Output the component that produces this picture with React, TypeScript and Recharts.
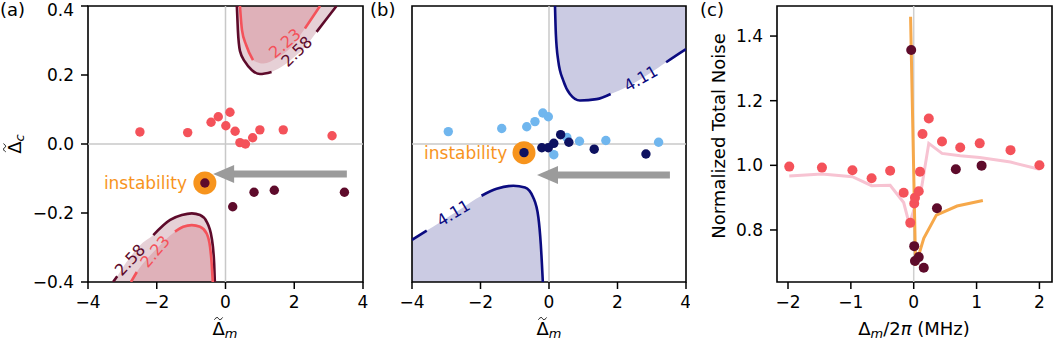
import React from 'react';
import {
  ComposedChart,
  Scatter,
  Line,
  Area,
  XAxis,
  YAxis,
  ReferenceLine,
  ReferenceDot,
  ReferenceArea,
} from 'recharts';

const FONT = '"DejaVu Sans", sans-serif';

type Pt = { x: number; y: number | null };

// ---------- panel (a): detuning map, red/dark data ----------
const brightA: Pt[] = [
  { x: -2.49, y: 0.035 }, { x: -1.1, y: 0.033 }, { x: -0.42, y: 0.063 }, { x: -0.21, y: 0.079 },
  { x: 0.13, y: 0.092 }, { x: 0.01, y: 0.053 }, { x: 0.28, y: 0.037 }, { x: 0.42, y: 0.004 },
  { x: 0.58, y: 0.0 }, { x: 0.79, y: 0.018 }, { x: 1.0, y: 0.041 }, { x: 1.68, y: 0.041 },
  { x: 3.1, y: 0.024 },
];
const darkA: Pt[] = [
  { x: -0.6, y: -0.113 }, { x: 0.21, y: -0.182 }, { x: 0.83, y: -0.14 }, { x: 1.42, y: -0.134 },
  { x: 3.46, y: -0.14 },
];
const instabA: Pt[] = [{ x: -0.6, y: -0.113 }];

// contour 2.58 (outer) and 2.23 (inner)
const outerUpA: Pt[] = [
  { x: 0.33, y: 0.4 }, { x: 0.36, y: 0.33 }, { x: 0.42, y: 0.27 }, { x: 0.57, y: 0.238 },
  { x: 0.77, y: 0.214 }, { x: 1.0, y: 0.203 }, { x: 1.34, y: 0.209 }, { x: 1.7, y: 0.228 },
  { x: 2.0, y: 0.252 }, { x: 2.35, y: 0.285 }, { x: 2.65, y: 0.325 }, { x: 2.92, y: 0.36 },
  { x: 3.23, y: 0.4 },
];
const innerUpA: Pt[] = [
  { x: 0.42, y: 0.4 }, { x: 0.48, y: 0.33 }, { x: 0.6, y: 0.287 }, { x: 0.8, y: 0.243 },
  { x: 1.1, y: 0.233 }, { x: 1.5, y: 0.25 }, { x: 1.9, y: 0.28 }, { x: 2.31, y: 0.335 },
  { x: 2.75, y: 0.4 },
];
const outerLowA: Pt[] = [
  { x: -3.27, y: -0.4 }, { x: -3.15, y: -0.383 }, { x: -2.9, y: -0.345 }, { x: -2.5, y: -0.295 },
  { x: -2.1, y: -0.264 }, { x: -1.61, y: -0.22 }, { x: -1.27, y: -0.206 }, { x: -0.98, y: -0.201 },
  { x: -0.74, y: -0.206 }, { x: -0.55, y: -0.225 }, { x: -0.4, y: -0.273 }, { x: -0.33, y: -0.346 },
  { x: -0.31, y: -0.4 },
];
const innerLowA: Pt[] = [
  { x: -2.75, y: -0.4 }, { x: -2.58, y: -0.371 }, { x: -2.3, y: -0.335 }, { x: -2.0, y: -0.303 },
  { x: -1.47, y: -0.254 }, { x: -1.23, y: -0.24 }, { x: -0.98, y: -0.235 }, { x: -0.74, y: -0.24 },
  { x: -0.55, y: -0.259 }, { x: -0.45, y: -0.298 }, { x: -0.4, y: -0.35 }, { x: -0.37, y: -0.4 },
];
// label gaps on the contour lines
const gapsOuterUpA = [[1.34, 2.65]];
const gapsInnerUpA = [[0.8, 2.31]];
const gapsOuterLowA = [[-3.15, -2.1]];
const gapsInnerLowA = [[-2.58, -1.47]];
const labelsA = [
  { x: 1.73, y: 0.292, text: '2.23', angle: -40, inner: true },
  { x: 2.07, y: 0.268, text: '2.58', angle: -44, inner: false },
  { x: -2.78, y: -0.336, text: '2.58', angle: -47, inner: false },
  { x: -2.05, y: -0.312, text: '2.23', angle: -50, inner: true },
];
const arrowA = { from: 3.53, to: -0.36, y: -0.087 };
const textA = { x: -1.12, y: -0.113 };

// ---------- panel (b) ----------
const brightB: Pt[] = [
  { x: -2.94, y: 0.036 }, { x: -1.38, y: 0.045 }, { x: -0.65, y: 0.05 }, { x: -0.41, y: 0.065 },
  { x: -0.18, y: 0.09 }, { x: -0.02, y: 0.079 }, { x: 0.52, y: 0.019 }, { x: 0.89, y: 0.008 },
  { x: 1.66, y: 0.01 }, { x: 3.2, y: 0.005 }, { x: 0.14, y: -0.031 },
];
const darkB: Pt[] = [
  { x: -0.73, y: -0.025 }, { x: -0.21, y: -0.011 }, { x: -0.02, y: -0.011 }, { x: 0.14, y: 0.002 },
  { x: 0.34, y: 0.027 }, { x: 0.58, y: 0.005 }, { x: 1.32, y: -0.015 }, { x: 2.83, y: -0.029 },
];
const instabB: Pt[] = [{ x: -0.73, y: -0.025 }];
const upB: Pt[] = [
  { x: 0.175, y: 0.4 }, { x: 0.2, y: 0.319 }, { x: 0.27, y: 0.241 }, { x: 0.42, y: 0.183 },
  { x: 0.61, y: 0.145 }, { x: 0.905, y: 0.126 }, { x: 1.39, y: 0.13 }, { x: 1.8, y: 0.145 },
  { x: 2.3, y: 0.167 }, { x: 2.8, y: 0.196 }, { x: 3.2, y: 0.222 }, { x: 3.42, y: 0.237 },
  { x: 3.92, y: 0.27 }, { x: 4.0, y: 0.275 },
];
const lowB: Pt[] = [
  { x: -4.0, y: -0.278 }, { x: -3.57, y: -0.251 }, { x: -3.2, y: -0.228 }, { x: -2.6, y: -0.19 },
  { x: -1.97, y: -0.15 }, { x: -1.53, y: -0.13 }, { x: -1.04, y: -0.121 }, { x: -0.7, y: -0.126 },
  { x: -0.46, y: -0.155 }, { x: -0.31, y: -0.213 }, { x: -0.24, y: -0.29 }, { x: -0.18, y: -0.4 },
];
const gapsUpB = [[1.8, 3.42]];
const gapsLowB = [[-3.57, -1.97]];
const labelsB = [
  { x: 2.68, y: 0.19, text: '4.11', angle: -30 },
  { x: -2.79, y: -0.2, text: '4.11', angle: -31 },
];
const arrowB = { from: 3.53, to: -0.35, y: -0.09 };
const textB = { x: -1.22, y: -0.027 };

// ---------- panel (c): normalized total noise ----------
const brightC: Pt[] = [
  { x: -1.98, y: 0.996 }, { x: -1.46, y: 0.993 }, { x: -0.975, y: 0.985 }, { x: -0.67, y: 0.96 },
  { x: -0.375, y: 0.983 }, { x: -0.16, y: 0.915 }, { x: -0.055, y: 0.822 }, { x: 0.008, y: 0.882 },
  { x: 0.02, y: 0.9 }, { x: 0.08, y: 0.92 }, { x: 0.1, y: 0.98 }, { x: 0.14, y: 1.097 },
  { x: 0.24, y: 1.145 }, { x: 0.45, y: 1.074 }, { x: 0.74, y: 1.055 }, { x: 1.05, y: 1.068 },
  { x: 1.54, y: 1.047 }, { x: 2.0, y: 1.0 },
];
const darkC: Pt[] = [
  { x: -0.04, y: 1.357 }, { x: 0.008, y: 0.75 }, { x: 0.02, y: 0.704 }, { x: 0.08, y: 0.716 },
  { x: 0.16, y: 0.683 }, { x: 0.37, y: 0.867 }, { x: 0.67, y: 0.988 }, { x: 1.08, y: 0.999 },
];
const theoryBrightC: Pt[] = [
  { x: -1.98, y: 0.967 }, { x: -1.46, y: 0.973 }, { x: -0.975, y: 0.965 }, { x: -0.67, y: 0.937 },
  { x: -0.375, y: 0.938 }, { x: -0.16, y: 0.885 }, { x: -0.07, y: 0.818 }, { x: 0.0, y: 0.86 },
  { x: 0.06, y: 0.91 }, { x: 0.12, y: 0.925 }, { x: 0.24, y: 1.068 }, { x: 0.45, y: 1.037 },
  { x: 0.74, y: 1.03 }, { x: 1.05, y: 1.024 }, { x: 1.54, y: 1.01 }, { x: 2.0, y: 0.988 },
];
const theoryDarkC: Pt[] = [
  { x: -0.05, y: 1.46 }, { x: 0.03, y: 0.69 }, { x: 0.16, y: 0.774 }, { x: 0.36, y: 0.846 },
  { x: 0.69, y: 0.874 }, { x: 1.1, y: 0.891 },
];

const ticksAB = [-4, -2, 0, 2, 4];
const yTicksA = [-0.4, -0.2, 0, 0.2, 0.4];
const yTicksB = [-0.4, -0.3, -0.2, -0.1, 0, 0.1, 0.2, 0.3, 0.4];
const xTicksC = [-2, -1, 0, 1, 2];
const yTicksC = [0.8, 1.0, 1.2, 1.4];

const RED = '#f4525a';
const MAROON = '#5e0b2b';
const BAND = '#e6d0d6';
const INNER = '#dfb1b9';
const SKY = '#70b6ee';
const NAVY = '#0d1160';
const NAVY_LINE = '#0b0b80';
const LAVENDER = '#cbcbe3';
const ORANGE = '#f7941d';
const GREY = '#9b9b9b';
const FS = 17;

const fmt = (digits: number) => (v: number) =>
  (v < 0 ? '\u2212' : '') + Math.abs(v).toFixed(digits);

const withGaps = (curve: Pt[], gaps: number[][]) =>
  curve.map((p) => (gaps.some(([lo, hi]) => p.x > lo && p.x < hi) ? { x: p.x, y: null } : p));

const dot = (r: number, fill: string) => (p: any) => <circle cx={p.cx} cy={p.cy} r={r} fill={fill} />;

const rotated = (text: string, angle: number, color: string) => (p: any) => (
  <text
    x={p.cx}
    y={p.cy}
    transform={`rotate(${angle} ${p.cx} ${p.cy})`}
    textAnchor="middle"
    dominantBaseline="central"
    fill={color}
    fontSize={16}
    fontFamily={FONT}
  >
    {text}
  </text>
);

const plainText = (text: string, color: string) => (p: any) => (
  <text x={p.cx} y={p.cy} textAnchor="end" dominantBaseline="central" fill={color} fontSize={FS} fontFamily={FONT}>
    {text}
  </text>
);

const head = (p: any) => (
  <polygon points={`${p.cx},${p.cy} ${p.cx + 21},${p.cy - 9} ${p.cx + 21},${p.cy + 9}`} fill={GREY} />
);

const tickStyle = { fill: '#000', fontSize: FS, fontFamily: FONT };
const tickLine = { stroke: '#000', strokeWidth: 1.5 };

function PanelA() {
  return (
    <ComposedChart width={370} height={345} margin={{ top: 6, right: 7, left: 0, bottom: 0 }}>
      <XAxis dataKey="x" type="number" domain={[-4, 4]} ticks={ticksAB} tickFormatter={fmt(0)} allowDataOverflow
        height={63} axisLine={false} tickSize={7} tickMargin={7} tick={tickStyle} tickLine={tickLine} />
      <YAxis dataKey="y" type="number" domain={[-0.4, 0.4]} ticks={yTicksA} tickFormatter={fmt(1)} allowDataOverflow
        width={88} axisLine={false} tickSize={7} tickMargin={7} tick={tickStyle} tickLine={tickLine} />
      <Area data={outerUpA} dataKey={(d: Pt) => [d.y, 0.4]} type="monotone" stroke="none" fill={BAND} fillOpacity={1} isAnimationActive={false} />
      <Area data={innerUpA} dataKey={(d: Pt) => [d.y, 0.4]} type="monotone" stroke="none" fill={INNER} fillOpacity={1} isAnimationActive={false} />
      <Area data={outerLowA} dataKey={(d: Pt) => [-0.4, d.y]} type="monotone" stroke="none" fill={BAND} fillOpacity={1} isAnimationActive={false} />
      <Area data={innerLowA} dataKey={(d: Pt) => [-0.4, d.y]} type="monotone" stroke="none" fill={INNER} fillOpacity={1} isAnimationActive={false} />
      <ReferenceLine x={0} stroke="#c8c8c8" strokeWidth={1.5} />
      <ReferenceLine y={0} stroke="#c8c8c8" strokeWidth={1.5} />
      <Line data={withGaps(outerUpA, gapsOuterUpA)} dataKey="y" type="monotone" stroke={MAROON} strokeWidth={2.6} dot={false} isAnimationActive={false} />
      <Line data={withGaps(innerUpA, gapsInnerUpA)} dataKey="y" type="monotone" stroke={RED} strokeWidth={2.6} dot={false} isAnimationActive={false} />
      <Line data={withGaps(outerLowA, gapsOuterLowA)} dataKey="y" type="monotone" stroke={MAROON} strokeWidth={2.6} dot={false} isAnimationActive={false} />
      <Line data={withGaps(innerLowA, gapsInnerLowA)} dataKey="y" type="monotone" stroke={RED} strokeWidth={2.6} dot={false} isAnimationActive={false} />
      {labelsA.map((l, i) => (
        <ReferenceDot key={'la' + i} x={l.x} y={l.y} shape={rotated(l.text, l.angle, l.inner ? RED : MAROON)} />
      ))}
      <ReferenceLine segment={[{ x: arrowA.from, y: arrowA.y }, { x: arrowA.to + 0.5, y: arrowA.y }]} stroke={GREY} strokeWidth={7} />
      <ReferenceDot x={arrowA.to} y={arrowA.y} shape={head} />
      <Scatter data={brightA} shape={dot(4.7, RED)} isAnimationActive={false} />
      <Scatter data={instabA} shape={dot(11.5, ORANGE)} isAnimationActive={false} />
      <Scatter data={darkA} shape={dot(4.7, MAROON)} isAnimationActive={false} />
      <ReferenceDot x={textA.x} y={textA.y} shape={plainText('instability', ORANGE)} />
      <ReferenceArea x1={-4} x2={4} y1={-0.4} y2={0.4} fill="none" stroke="#000" strokeWidth={1.6} />
    </ComposedChart>
  );
}

function PanelB() {
  return (
    <ComposedChart width={320} height={345} margin={{ top: 6, right: 4, left: 0, bottom: 0 }}>
      <XAxis dataKey="x" type="number" domain={[-4, 4]} ticks={ticksAB} tickFormatter={fmt(0)} allowDataOverflow
        height={63} axisLine={false} tickSize={7} tickMargin={7} tick={tickStyle} tickLine={tickLine} />
      <YAxis dataKey="y" type="number" domain={[-0.4, 0.4]} ticks={yTicksB} allowDataOverflow
        width={42} axisLine={false} tickSize={7} tick={false} tickLine={tickLine} />
      <Area data={upB} dataKey={(d: Pt) => [d.y, 0.4]} type="monotone" stroke="none" fill={LAVENDER} fillOpacity={1} isAnimationActive={false} />
      <Area data={lowB} dataKey={(d: Pt) => [-0.4, d.y]} type="monotone" stroke="none" fill={LAVENDER} fillOpacity={1} isAnimationActive={false} />
      <ReferenceLine x={0} stroke="#c8c8c8" strokeWidth={1.5} />
      <ReferenceLine y={0} stroke="#c8c8c8" strokeWidth={1.5} />
      <Line data={withGaps(upB, gapsUpB)} dataKey="y" type="monotone" stroke={NAVY_LINE} strokeWidth={2.6} dot={false} isAnimationActive={false} />
      <Line data={withGaps(lowB, gapsLowB)} dataKey="y" type="monotone" stroke={NAVY_LINE} strokeWidth={2.6} dot={false} isAnimationActive={false} />
      {labelsB.map((l, i) => (
        <ReferenceDot key={'lb' + i} x={l.x} y={l.y} shape={rotated(l.text, l.angle, NAVY_LINE)} />
      ))}
      <ReferenceLine segment={[{ x: arrowB.from, y: arrowB.y }, { x: arrowB.to + 0.5, y: arrowB.y }]} stroke={GREY} strokeWidth={7} />
      <ReferenceDot x={arrowB.to} y={arrowB.y} shape={head} />
      <Scatter data={brightB} shape={dot(4.7, SKY)} isAnimationActive={false} />
      <Scatter data={instabB} shape={dot(11.5, ORANGE)} isAnimationActive={false} />
      <Scatter data={darkB} shape={dot(4.7, NAVY)} isAnimationActive={false} />
      <ReferenceDot x={textB.x} y={textB.y} shape={plainText('instability', ORANGE)} />
      <ReferenceArea x1={-4} x2={4} y1={-0.4} y2={0.4} fill="none" stroke="#000" strokeWidth={1.6} />
    </ComposedChart>
  );
}

function PanelC() {
  return (
    <ComposedChart width={368} height={345} margin={{ top: 6, right: 6, left: 0, bottom: 0 }}>
      <XAxis dataKey="x" type="number" domain={[-2.175, 2.2]} ticks={xTicksC} tickFormatter={fmt(0)} allowDataOverflow
        height={63} axisLine={false} tickSize={7} tickMargin={7} tick={tickStyle} tickLine={tickLine} />
      <YAxis dataKey="y" type="number" domain={[0.639, 1.493]} ticks={yTicksC} tickFormatter={fmt(1)} allowDataOverflow
        width={87} axisLine={false} tickSize={7} tickMargin={7} tick={tickStyle} tickLine={tickLine} />
      <ReferenceLine x={0} stroke="#cfcfcf" strokeWidth={1.5} />
      <Line data={theoryBrightC} dataKey="y" type="linear" stroke="#f7c3d2" strokeWidth={3} dot={false} isAnimationActive={false} />
      <Scatter data={brightC} shape={dot(5, RED)} isAnimationActive={false} />
      <Scatter data={darkC} shape={dot(5, MAROON)} isAnimationActive={false} />
      <Line data={theoryDarkC} dataKey="y" type="linear" stroke="#f6a84a" strokeWidth={3} dot={false} isAnimationActive={false} />
      <ReferenceArea x1={-2.175} x2={2.2} y1={0.639} y2={1.493} fill="none" stroke="#000" strokeWidth={1.6} />
    </ComposedChart>
  );
}

const abs = (left: number, top: number): React.CSSProperties => ({
  position: 'absolute',
  left,
  top,
  fontFamily: FONT,
  fontSize: FS + 1,
  color: '#000',
  whiteSpace: 'nowrap',
  lineHeight: 1.1,
});

const sub: React.CSSProperties = { fontStyle: 'italic', fontSize: '0.72em', verticalAlign: '-0.25em' };

// Delta with a small drawn tilde above it
function TDelta() {
  return (
    <span style={{ position: 'relative', display: 'inline-block' }}>
      {'\u0394'}
      <svg
        viewBox="0 0 10 4"
        style={{ position: 'absolute', left: '50%', top: '-0.12em', width: '0.5em', height: '0.2em', transform: 'translateX(-50%)', overflow: 'visible' }}
      >
        <path d="M0.5,3.2 C2.5,0 4.5,0.6 5,2 C5.5,3.4 7.5,4 9.5,0.8" stroke="#000" strokeWidth={1.1} fill="none" />
      </svg>
    </span>
  );
}

export default function App() {
  return (
    <div style={{ position: 'fixed', left: 0, top: 0, width: 1058, height: 345, background: '#fff', overflow: 'hidden' }}>
      <div style={{ position: 'absolute', left: 0, top: 0 }}><PanelA /></div>
      <div style={{ position: 'absolute', left: 370, top: 0 }}><PanelB /></div>
      <div style={{ position: 'absolute', left: 690, top: 0 }}><PanelC /></div>

      <div style={{ ...abs(0, 1), fontSize: 18, lineHeight: 1 }}>(a)</div>
      <div style={{ ...abs(370, 1), fontSize: 18, lineHeight: 1 }}>(b)</div>
      <div style={{ ...abs(700, 1), fontSize: 18, lineHeight: 1 }}>(c)</div>

      <div style={{ ...abs(225, 330), transform: 'translate(-50%, -50%)' }}><TDelta /><span style={sub}>m</span></div>
      <div style={{ ...abs(549, 330), transform: 'translate(-50%, -50%)' }}><TDelta /><span style={sub}>m</span></div>
      <div style={{ ...abs(16, 144), transform: 'translate(-50%, -50%) rotate(-90deg)' }}>
        <TDelta /><span style={sub}>c</span>
      </div>

      <div style={{ ...abs(914, 330), transform: 'translate(-50%, -50%)' }}>
        {'\u0394'}<span style={sub}>m</span>/2<i>{'\u03c0'}</i> (MHz)
      </div>
      <div style={{ ...abs(719, 136), transform: 'translate(-50%, -50%) rotate(-90deg)', fontSize: 18 }}>
        Normalized Total Noise
      </div>
    </div>
  );
}
